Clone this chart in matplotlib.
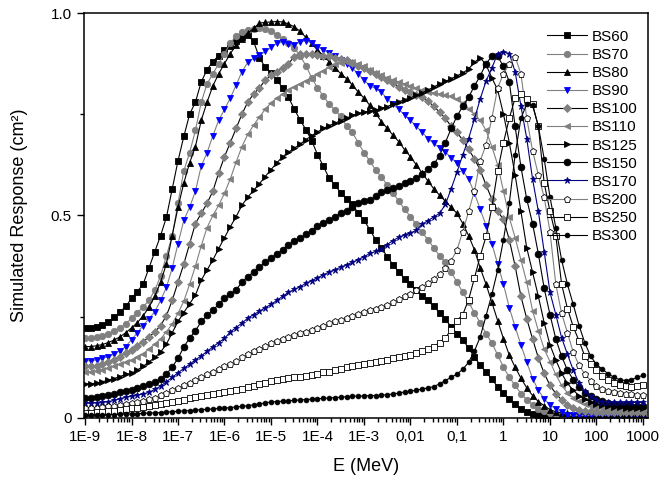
import numpy as np
import matplotlib
matplotlib.use("Agg")
import matplotlib.pyplot as plt
from matplotlib.ticker import FixedLocator, FixedFormatter, LogLocator, NullFormatter

plt.rcParams['font.family'] = ['Liberation Sans', 'DejaVu Sans']

# energy grid of the simulation: 8 points per decade, 1E-9 ... 1000 MeV
energia = np.logspace(-9, 3, 97)

bs60 = [0.222, 0.223, 0.225, 0.229, 0.237, 0.248, 0.261, 0.275,
        0.295, 0.312, 0.330, 0.370, 0.410, 0.450, 0.495, 0.565,
        0.635, 0.695, 0.750, 0.780, 0.830, 0.860, 0.880, 0.895,
        0.908, 0.918, 0.930, 0.940, 0.945, 0.930, 0.890, 0.866,
        0.852, 0.835, 0.815, 0.792, 0.763, 0.736, 0.712, 0.685,
        0.650, 0.622, 0.592, 0.575, 0.556, 0.540, 0.528, 0.505,
        0.488, 0.465, 0.440, 0.420, 0.398, 0.378, 0.360, 0.343,
        0.330, 0.316, 0.302, 0.290, 0.275, 0.260, 0.243, 0.225,
        0.208, 0.193, 0.172, 0.150, 0.130, 0.113, 0.095, 0.077,
        0.062, 0.046, 0.033, 0.022, 0.015, 0.010, 0.007, 0.005,
        0.004, 0.003, 0.003, 0.003, 0.003, 0.003, 0.003, 0.003,
        0.003, 0.003, 0.003, 0.003, 0.004, 0.004, 0.004, 0.004,
        0.004]
bs70 = [0.197, 0.197, 0.199, 0.203, 0.208, 0.214, 0.222, 0.232,
        0.246, 0.260, 0.274, 0.290, 0.315, 0.350, 0.400, 0.450,
        0.530, 0.610, 0.655, 0.710, 0.780, 0.825, 0.850, 0.875,
        0.900, 0.925, 0.944, 0.952, 0.957, 0.960, 0.962, 0.960,
        0.955, 0.946, 0.937, 0.927, 0.913, 0.895, 0.870, 0.840,
        0.815, 0.795, 0.775, 0.760, 0.745, 0.720, 0.705, 0.680,
        0.655, 0.635, 0.612, 0.595, 0.575, 0.555, 0.535, 0.515,
        0.497, 0.478, 0.458, 0.440, 0.420, 0.400, 0.385, 0.360,
        0.335, 0.310, 0.285, 0.260, 0.234, 0.208, 0.185, 0.155,
        0.125, 0.100, 0.080, 0.060, 0.044, 0.032, 0.022, 0.016,
        0.012, 0.010, 0.008, 0.007, 0.006, 0.006, 0.006, 0.006,
        0.006, 0.006, 0.006, 0.007, 0.007, 0.007, 0.007, 0.008,
        0.008]
bs80 = [0.176, 0.176, 0.178, 0.181, 0.186, 0.192, 0.200, 0.210,
        0.222, 0.235, 0.252, 0.273, 0.300, 0.335, 0.380, 0.450,
        0.520, 0.580, 0.630, 0.670, 0.735, 0.780, 0.820, 0.850,
        0.875, 0.900, 0.920, 0.935, 0.950, 0.962, 0.975, 0.977,
        0.978, 0.979, 0.978, 0.973, 0.966, 0.955, 0.940, 0.925,
        0.908, 0.895, 0.880, 0.865, 0.850, 0.838, 0.822, 0.805,
        0.790, 0.772, 0.752, 0.732, 0.715, 0.698, 0.682, 0.662,
        0.645, 0.625, 0.605, 0.585, 0.566, 0.550, 0.535, 0.520,
        0.505, 0.480, 0.450, 0.415, 0.370, 0.330, 0.285, 0.240,
        0.195, 0.155, 0.125, 0.098, 0.074, 0.055, 0.040, 0.030,
        0.020, 0.015, 0.012, 0.011, 0.010, 0.010, 0.010, 0.010,
        0.010, 0.010, 0.010, 0.010, 0.010, 0.010, 0.010, 0.010,
        0.010]
bs90 = [0.141, 0.141, 0.143, 0.147, 0.151, 0.157, 0.166, 0.176,
        0.193, 0.210, 0.228, 0.245, 0.262, 0.290, 0.322, 0.370,
        0.430, 0.488, 0.520, 0.560, 0.622, 0.655, 0.697, 0.735,
        0.762, 0.790, 0.822, 0.855, 0.878, 0.888, 0.896, 0.905,
        0.915, 0.925, 0.928, 0.924, 0.922, 0.928, 0.932, 0.926,
        0.917, 0.909, 0.901, 0.893, 0.884, 0.874, 0.864, 0.850,
        0.835, 0.820, 0.814, 0.805, 0.788, 0.775, 0.762, 0.748,
        0.735, 0.720, 0.706, 0.690, 0.678, 0.667, 0.656, 0.643,
        0.629, 0.610, 0.590, 0.555, 0.515, 0.475, 0.430, 0.380,
        0.330, 0.272, 0.225, 0.180, 0.138, 0.097, 0.068, 0.047,
        0.032, 0.022, 0.014, 0.008, 0.006, 0.006, 0.006, 0.006,
        0.007, 0.007, 0.008, 0.008, 0.009, 0.009, 0.010, 0.010,
        0.010]
bs100 = [0.127, 0.127, 0.129, 0.133, 0.138, 0.144, 0.151, 0.159,
         0.168, 0.178, 0.188, 0.200, 0.212, 0.228, 0.252, 0.290,
         0.335, 0.380, 0.430, 0.480, 0.505, 0.530, 0.560, 0.605,
         0.645, 0.680, 0.715, 0.750, 0.780, 0.800, 0.815, 0.834,
         0.846, 0.855, 0.864, 0.875, 0.892, 0.898, 0.898, 0.898,
         0.897, 0.895, 0.893, 0.890, 0.887, 0.883, 0.877, 0.870,
         0.863, 0.856, 0.850, 0.843, 0.835, 0.826, 0.818, 0.810,
         0.805, 0.798, 0.792, 0.782, 0.770, 0.755, 0.740, 0.720,
         0.705, 0.686, 0.663, 0.640, 0.612, 0.575, 0.540, 0.510,
         0.490, 0.440, 0.375, 0.300, 0.245, 0.195, 0.148, 0.110,
         0.080, 0.060, 0.044, 0.032, 0.024, 0.020, 0.017, 0.016,
         0.015, 0.015, 0.015, 0.015, 0.015, 0.015, 0.015, 0.015,
         0.015]
bs110 = [0.114, 0.114, 0.116, 0.119, 0.123, 0.127, 0.132, 0.137,
         0.142, 0.150, 0.158, 0.170, 0.182, 0.195, 0.212, 0.232,
         0.258, 0.288, 0.330, 0.375, 0.425, 0.470, 0.500, 0.525,
         0.555, 0.590, 0.632, 0.670, 0.700, 0.723, 0.743, 0.762,
         0.778, 0.790, 0.800, 0.810, 0.818, 0.825, 0.833, 0.840,
         0.849, 0.858, 0.866, 0.873, 0.877, 0.879, 0.879, 0.874,
         0.868, 0.860, 0.853, 0.846, 0.840, 0.835, 0.830, 0.825,
         0.820, 0.815, 0.810, 0.806, 0.803, 0.800, 0.797, 0.794,
         0.788, 0.778, 0.764, 0.750, 0.735, 0.710, 0.670, 0.625,
         0.560, 0.495, 0.445, 0.390, 0.335, 0.265, 0.215, 0.170,
         0.139, 0.107, 0.080, 0.062, 0.050, 0.042, 0.035, 0.030,
         0.027, 0.025, 0.023, 0.022, 0.022, 0.022, 0.022, 0.022,
         0.022]
bs125 = [0.084, 0.084, 0.086, 0.089, 0.093, 0.097, 0.102, 0.107,
         0.110, 0.118, 0.127, 0.138, 0.149, 0.162, 0.182, 0.210,
         0.238, 0.260, 0.282, 0.303, 0.340, 0.365, 0.390, 0.418,
         0.445, 0.472, 0.497, 0.525, 0.545, 0.562, 0.578, 0.596,
         0.613, 0.630, 0.645, 0.656, 0.666, 0.676, 0.687, 0.697,
         0.706, 0.715, 0.722, 0.728, 0.734, 0.740, 0.747, 0.752,
         0.755, 0.758, 0.760, 0.765, 0.769, 0.775, 0.781, 0.786,
         0.791, 0.797, 0.803, 0.810, 0.817, 0.825, 0.831, 0.838,
         0.845, 0.852, 0.862, 0.878, 0.890, 0.872, 0.840, 0.810,
         0.750, 0.680, 0.600, 0.510, 0.420, 0.360, 0.300, 0.235,
         0.180, 0.143, 0.110, 0.085, 0.068, 0.055, 0.046, 0.039,
         0.034, 0.031, 0.029, 0.027, 0.026, 0.025, 0.025, 0.025,
         0.025]
bs150 = [0.049, 0.049, 0.051, 0.054, 0.057, 0.060, 0.063, 0.066,
         0.069, 0.073, 0.078, 0.083, 0.088, 0.095, 0.108, 0.125,
         0.147, 0.175, 0.197, 0.215, 0.238, 0.253, 0.266, 0.280,
         0.295, 0.306, 0.316, 0.335, 0.349, 0.360, 0.372, 0.384,
         0.395, 0.405, 0.415, 0.428, 0.437, 0.444, 0.453, 0.462,
         0.474, 0.482, 0.488, 0.497, 0.506, 0.512, 0.520, 0.530,
         0.535, 0.538, 0.547, 0.557, 0.562, 0.567, 0.573, 0.579,
         0.585, 0.592, 0.602, 0.614, 0.626, 0.648, 0.680, 0.715,
         0.745, 0.770, 0.792, 0.820, 0.845, 0.875, 0.893, 0.893,
         0.868, 0.830, 0.720, 0.620, 0.540, 0.480, 0.405, 0.320,
         0.255, 0.195, 0.152, 0.118, 0.094, 0.075, 0.062, 0.053,
         0.046, 0.041, 0.037, 0.034, 0.032, 0.031, 0.030, 0.030,
         0.030]
bs170 = [0.036, 0.036, 0.037, 0.038, 0.040, 0.043, 0.047, 0.051,
         0.053, 0.056, 0.059, 0.063, 0.070, 0.078, 0.089, 0.100,
         0.111, 0.122, 0.132, 0.143, 0.153, 0.164, 0.175, 0.186,
         0.196, 0.212, 0.223, 0.234, 0.246, 0.255, 0.263, 0.272,
         0.280, 0.290, 0.300, 0.310, 0.317, 0.324, 0.332, 0.339,
         0.346, 0.353, 0.360, 0.366, 0.372, 0.378, 0.384, 0.391,
         0.398, 0.406, 0.411, 0.417, 0.428, 0.438, 0.446, 0.452,
         0.457, 0.463, 0.478, 0.487, 0.496, 0.505, 0.527, 0.566,
         0.607, 0.650, 0.690, 0.738, 0.788, 0.832, 0.864, 0.900,
         0.904, 0.900, 0.855, 0.770, 0.690, 0.590, 0.510, 0.410,
         0.310, 0.255, 0.198, 0.157, 0.118, 0.086, 0.066, 0.053,
         0.045, 0.040, 0.039, 0.038, 0.038, 0.038, 0.038, 0.038,
         0.038]
bs200 = [0.024, 0.024, 0.025, 0.027, 0.028, 0.030, 0.032, 0.034,
         0.036, 0.039, 0.042, 0.046, 0.050, 0.056, 0.062, 0.068,
         0.074, 0.080, 0.086, 0.093, 0.100, 0.107, 0.114, 0.120,
         0.127, 0.134, 0.141, 0.149, 0.157, 0.164, 0.171, 0.178,
         0.184, 0.189, 0.194, 0.199, 0.204, 0.209, 0.213, 0.218,
         0.223, 0.228, 0.233, 0.238, 0.242, 0.247, 0.252, 0.257,
         0.261, 0.266, 0.270, 0.273, 0.279, 0.286, 0.293, 0.300,
         0.305, 0.315, 0.324, 0.333, 0.343, 0.356, 0.370, 0.388,
         0.415, 0.460, 0.510, 0.560, 0.635, 0.675, 0.740, 0.815,
         0.850, 0.875, 0.892, 0.850, 0.740, 0.660, 0.600, 0.545,
         0.460, 0.330, 0.258, 0.210, 0.162, 0.130, 0.108, 0.092,
         0.078, 0.070, 0.065, 0.063, 0.061, 0.059, 0.058, 0.057,
         0.057]
bs250 = [0.013, 0.013, 0.014, 0.015, 0.016, 0.018, 0.020, 0.021,
         0.023, 0.025, 0.027, 0.029, 0.032, 0.034, 0.037, 0.040,
         0.042, 0.045, 0.048, 0.051, 0.054, 0.057, 0.060, 0.062,
         0.064, 0.066, 0.069, 0.072, 0.076, 0.079, 0.083, 0.087,
         0.090, 0.093, 0.096, 0.098, 0.100, 0.102, 0.104, 0.106,
         0.109, 0.112, 0.114, 0.118, 0.121, 0.125, 0.128, 0.130,
         0.133, 0.135, 0.138, 0.140, 0.143, 0.147, 0.150, 0.153,
         0.156, 0.160, 0.165, 0.170, 0.176, 0.186, 0.197, 0.218,
         0.240, 0.255, 0.292, 0.345, 0.400, 0.448, 0.520, 0.610,
         0.680, 0.740, 0.790, 0.800, 0.788, 0.775, 0.720, 0.580,
         0.510, 0.450, 0.330, 0.270, 0.225, 0.190, 0.152, 0.132,
         0.117, 0.104, 0.094, 0.086, 0.080, 0.078, 0.077, 0.079,
         0.081]
bs300 = [0.006, 0.006, 0.007, 0.007, 0.008, 0.008, 0.009, 0.009,
         0.010, 0.010, 0.011, 0.012, 0.012, 0.013, 0.014, 0.015,
         0.016, 0.017, 0.018, 0.019, 0.020, 0.021, 0.022, 0.023,
         0.024, 0.025, 0.027, 0.028, 0.030, 0.032, 0.034, 0.037,
         0.039, 0.040, 0.041, 0.042, 0.043, 0.044, 0.045, 0.046,
         0.047, 0.048, 0.049, 0.050, 0.051, 0.052, 0.053, 0.054,
         0.054, 0.055, 0.055, 0.056, 0.057, 0.059, 0.061, 0.064,
         0.066, 0.068, 0.071, 0.074, 0.077, 0.084, 0.092, 0.100,
         0.108, 0.120, 0.137, 0.165, 0.200, 0.252, 0.305, 0.365,
         0.440, 0.530, 0.650, 0.740, 0.775, 0.772, 0.720, 0.640,
         0.545, 0.470, 0.390, 0.330, 0.280, 0.228, 0.185, 0.152,
         0.132, 0.120, 0.109, 0.100, 0.094, 0.092, 0.094, 0.100,
         0.105]

nombres = ["BS60", "BS70", "BS80", "BS90", "BS100", "BS110",
           "BS125", "BS150", "BS170", "BS200", "BS250", "BS300"]
respuestas = [bs60, bs70, bs80, bs90, bs100, bs110,
              bs125, bs150, bs170, bs200, bs250, bs300]

gris = "#808080"
azul = "#0000ff"
marino = "#00007f"
# (marcador, color de linea, relleno, borde, tamano)
estilos = [
    ("s", "black", "black", "black", 4.2),
    ("o", gris, gris, gris, 4.6),
    ("^", "black", "black", "black", 5.0),
    ("v", gris, azul, azul, 5.0),
    ("D", "black", gris, gris, 3.6),
    ("<", gris, gris, gris, 5.0),
    (">", "black", "black", "black", 5.0),
    ("o", "black", "black", "black", 4.8),
    ("*", marino, marino, marino, 5.0),
    ("p", gris, "white", "black", 5.0),
    ("s", "black", "white", "black", 4.4),
    ("o", "black", "black", "black", 3.4),
]

fig = plt.figure(figsize=(6.62, 4.83), dpi=100)
ax = fig.add_axes([0.127, 0.135, 0.852, 0.838])

for nombre, resp, (m, lc, fc, ec, ms) in zip(nombres, respuestas, estilos):
    ax.plot(energia, resp, color=lc, lw=0.8, marker=m, markersize=ms,
            markerfacecolor=fc, markeredgecolor=ec, markeredgewidth=0.6,
            label=nombre)

ax.set_xscale("log")
ax.set_xlim(10 ** -9.02, 10 ** 3.11)
ax.set_ylim(0, 1.0)

xticks = [1e-9, 1e-8, 1e-7, 1e-6, 1e-5, 1e-4, 1e-3, 1e-2, 1e-1, 1, 10, 100, 1000]
xlabels = ["1E-9", "1E-8", "1E-7", "1E-6", "1E-5", "1E-4", "1E-3",
           "0,01", "0,1", "1", "10", "100", "1000"]
ax.xaxis.set_major_locator(FixedLocator(xticks))
ax.xaxis.set_major_formatter(FixedFormatter(xlabels))
ax.xaxis.set_minor_locator(LogLocator(base=10, subs=np.arange(2, 10), numticks=30))
ax.xaxis.set_minor_formatter(NullFormatter())

ax.yaxis.set_major_locator(FixedLocator([0, 0.5, 1.0]))
ax.yaxis.set_major_formatter(FixedFormatter(["0", "0.5", "1.0"]))
ax.yaxis.set_minor_locator(FixedLocator([0.25, 0.75]))

ax.tick_params(which="both", direction="out", top=False, right=False,
               labelsize=11, width=1.0)
ax.tick_params(which="major", length=5, pad=4)
ax.tick_params(which="minor", length=3)
for s in ax.spines.values():
    s.set_linewidth(1.1)

ax.set_xlabel("E (MeV)", fontsize=13, labelpad=10)
ax.set_ylabel("Simulated Response (cm²)", fontsize=13, labelpad=16)

ax.legend(loc="upper right", bbox_to_anchor=(1.0, 0.985), frameon=False,
          fontsize=11, handlelength=2.6, labelspacing=0.27,
          handletextpad=0.3, borderaxespad=0.3)

fig.savefig("out.png", dpi=100)
